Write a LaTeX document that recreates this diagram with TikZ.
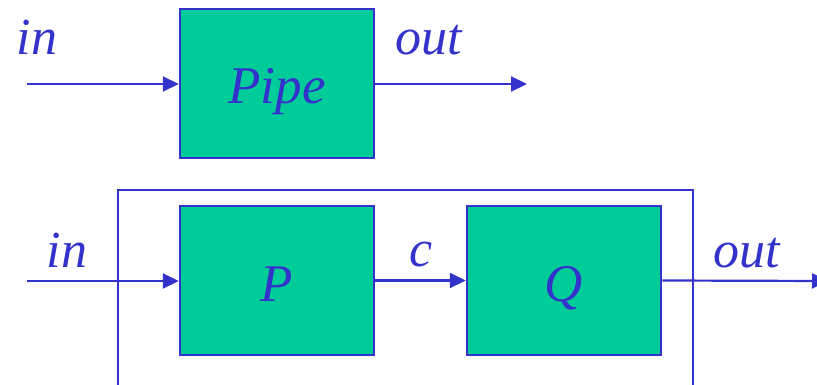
\documentclass[tikz,border=0pt]{standalone}
\usepackage{fontspec}
\setmainfont{Liberation Serif}
\usetikzlibrary{arrows.meta}
\definecolor{lblue}{RGB}{51,51,204}
\definecolor{bgreen}{RGB}{0,204,153}
\begin{document}
\begin{tikzpicture}[x=1pt,y=-1pt,
  blk/.style={draw=lblue,line width=2.5pt,fill=bgreen,minimum width=194pt,minimum height=149pt,inner sep=0pt,
    text height=41pt,text depth=0pt,
    font=\fontsize{53}{58}\selectfont\itshape,text=lblue},
  lbl/.style={anchor=base,font=\fontsize{52}{58}\selectfont\itshape,text=lblue,inner sep=0pt},
  conn/.style={draw=lblue,line width=2.2pt,-{Triangle[length=16pt,width=15pt]}},
  frame/.style={draw=lblue,line width=2pt}]
\useasboundingbox (0,0) rectangle (817,385);
\clip (0,0) rectangle (817,385);
% top
\node[blk] (pipe) at (277,83.5) {Pipe};
\coordinate (tin) at (27,84);
\coordinate (tout) at (527,84);
\draw[conn] (tin) -- (tin -| pipe.west);
\draw[conn] (pipe.east |- tout) -- (tout);
\node[lbl] (lin1) at (37,55) {in};
\node[lbl] (lout1) at (429,55) {out};
% bottom
\draw[frame] (118,395) -- (118,190) -- (693,190) -- (693,395);
\node[blk] (P) at (277,280.5) {P};
\node[blk] (Q) at (564,280.5) {Q};
\coordinate (bin) at (27,281);
\coordinate (bout) at (828,281);
\draw[conn] (bin) -- (bin -| P.west);
\draw[conn] (P.east) -- (Q.west);
\draw[conn] (Q.east) -- (bout);
\node[lbl] (lin2) at (67,267) {in};
\node[lbl] (lc) at (421,266) {c};
\node[lbl] (lout2) at (747,267) {out};
\end{tikzpicture}
\end{document}
